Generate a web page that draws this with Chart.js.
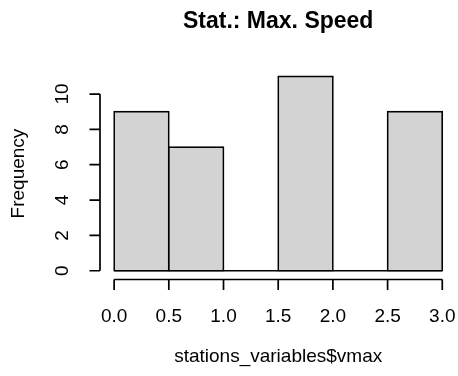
<!DOCTYPE html>
<html>
<head>
<meta charset="utf-8">
<script src="https://cdn.jsdelivr.net/npm/chart.js@4"></script>
<style>
  html, body { margin: 0; padding: 0; background: #fff; }
  #wrap { width: 458px; height: 376px; position: relative; }
</style>
</head>
<body>
<div id="wrap"><canvas id="hist"></canvas></div>
<script>
// histogram bins (mids) and counts
const binMids = [0.25, 0.75, 1.25, 1.75, 2.25, 2.75];
const counts = [9, 7, 0, 11, 0, 9];
const binEdges = [0, 0.5, 1.0, 1.5, 2.0, 2.5, 3.0];
const xTicks = [0, 0.5, 1.0, 1.5, 2.0, 2.5, 3.0];
const yTicks = [0, 2, 4, 6, 8, 10];

const titleText = 'Stat.: Max. Speed';
const xTitle = 'stations_variables$vmax';
const yTitle = 'Frequency';

const baseFont = 'Liberation Sans, Arial, sans-serif';
const lw = 1.7;

// R style axes, drawn with the chart scales
const rAxes = {
    id: 'rAxes',
    afterDraw(chart) {
        const ctx = chart.ctx;
        const xs = chart.scales.x;
        const ys = chart.scales.y;
        const area = chart.chartArea;
        const tick = 10.5;

        ctx.save();
        ctx.strokeStyle = '#000';
        ctx.fillStyle = '#000';
        ctx.lineWidth = lw;

        // x axis
        const xa = area.bottom + 1;
        ctx.beginPath();
        ctx.moveTo(xs.getPixelForValue(xTicks[0]), xa);
        ctx.lineTo(xs.getPixelForValue(xTicks[xTicks.length - 1]), xa);
        xTicks.forEach(t => {
            const px = xs.getPixelForValue(t);
            ctx.moveTo(px, xa);
            ctx.lineTo(px, xa + tick);
        });
        ctx.stroke();

        ctx.font = '19px ' + baseFont;
        ctx.textAlign = 'center';
        ctx.textBaseline = 'middle';
        xTicks.forEach(t => {
            ctx.fillText(t.toFixed(1), xs.getPixelForValue(t), 317);
        });

        // y axis
        const ya = area.left - 1;
        ctx.beginPath();
        ctx.moveTo(ya, ys.getPixelForValue(yTicks[0]));
        ctx.lineTo(ya, ys.getPixelForValue(yTicks[yTicks.length - 1]));
        yTicks.forEach(t => {
            const py = ys.getPixelForValue(t);
            ctx.moveTo(ya, py);
            ctx.lineTo(ya - tick, py);
        });
        ctx.stroke();

        yTicks.forEach(t => {
            ctx.save();
            ctx.translate(63, ys.getPixelForValue(t));
            ctx.rotate(-Math.PI / 2);
            ctx.fillText(String(t), 0, 0);
            ctx.restore();
        });

        // titles
        const cx = (xs.getPixelForValue(0) + xs.getPixelForValue(3)) / 2;
        ctx.fillText(xTitle, cx, 357);

        ctx.save();
        ctx.translate(19, (area.top + area.bottom) / 2);
        ctx.rotate(-Math.PI / 2);
        ctx.fillText(yTitle, 0, 0);
        ctx.restore();

        ctx.font = 'bold 23px ' + baseFont;
        ctx.fillText(titleText, cx, 22);
        ctx.restore();
    }
};

new Chart(document.getElementById('hist'), {
    type: 'bar',
    data: {
        datasets: [{
            type: 'line',
            data: binEdges.map(e => ({ x: e, y: 0 })),
            borderColor: '#000',
            borderWidth: lw,
            pointRadius: 0,
            fill: false,
            order: 0
        }, {
            data: binMids.map((m, i) => ({ x: m, y: counts[i] })),
            backgroundColor: '#d3d3d3',
            borderColor: '#000',
            borderWidth: lw,
            borderSkipped: false,
            inflateAmount: lw / 2,
            barPercentage: 1,
            categoryPercentage: 1,
            order: 1
        }]
    },
    options: {
        responsive: true,
        maintainAspectRatio: false,
        animation: false,
        layout: { padding: { left: 101, right: 2.6, top: 68.6, bottom: 97.5 } },
        plugins: { legend: { display: false }, tooltip: { enabled: false } },
        scales: {
            x: { type: 'linear', min: -0.12, max: 3.12, display: false, offset: false },
            y: { min: -0.44, max: 11.44, display: false }
        }
    },
    plugins: [rAxes]
});
</script>
</body>
</html>
